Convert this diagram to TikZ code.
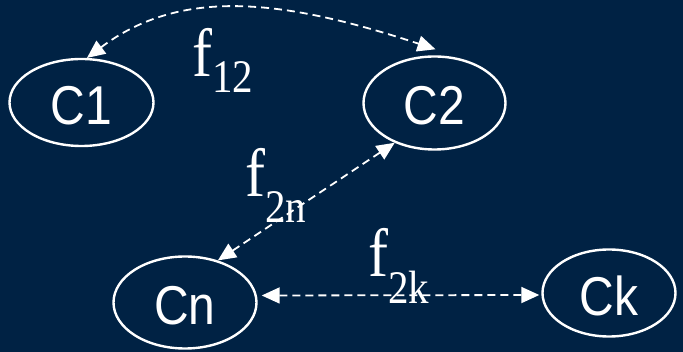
\documentclass[tikz,border=0pt]{standalone}
\usepackage{fontspec}
\setmainfont{Liberation Sans}
\newfontfamily\serifF{Liberation Serif}
\usetikzlibrary{arrows.meta,calc,shapes.geometric}
\definecolor{bgnavy}{RGB}{0,34,68}
\newcommand{\vstretch}[1]{\scalebox{1}[1.14]{#1}}
\tikzset{
  cl/.style={ellipse, draw=white, line width=2.4pt, inner sep=0pt,
    label={[text=white, font=\fontsize{48}{48}\selectfont, yshift=-3pt]center:\vstretch{#1}}},
  lbl/.style={anchor=base west, inner sep=0pt, text=white, font=\serifF\fontsize{60}{60}\selectfont},
  dl/.style={draw=white, line width=1.8pt, dash pattern=on 8pt off 5pt,
    {Triangle[length=18pt,width=16pt]}-{Triangle[length=18pt,width=16pt]}}
}
\newcommand{\subtxt}[2]{\raisebox{-#1pt}{\fontsize{41}{41}\selectfont #2}}
\begin{document}
\begin{tikzpicture}[x=1pt,y=-1pt]
\fill[bgnavy] (0,0) rectangle (683,352);
\useasboundingbox (0,0) rectangle (683,352);
\node[cl=C1, minimum width=144pt, minimum height=87pt] (c1) at (81.5,102.5) {};
\node[cl=C2, minimum width=142pt, minimum height=93pt] (c2) at (434.5,103) {};
\node[cl=Cn, minimum width=143pt, minimum height=92pt] (cn) at (185,302.5) {};
\node[cl=Ck, minimum width=133pt, minimum height=87pt] (ck) at (609,293) {};
\node[lbl] (l12) at (192,77) {\vstretch{f\subtxt{14}{12}}};
\node[lbl] (l2n) at (245,197) {\vstretch{f\subtxt{22}{2n}}};
\node[lbl] (l2k) at (368,277) {\vstretch{f\subtxt{23}{2k}}};
\draw[dl] (c1.83) .. controls (180,-12) and (280,-2) .. ([shift={(1,-6)}]c2.north);
\draw[dl] (c2.225) -- (cn.52);
\draw[dl] ([shift={(4,-7)}]cn.east) -- ([shift={(-2,2)}]ck.west);
\end{tikzpicture}
\end{document}
